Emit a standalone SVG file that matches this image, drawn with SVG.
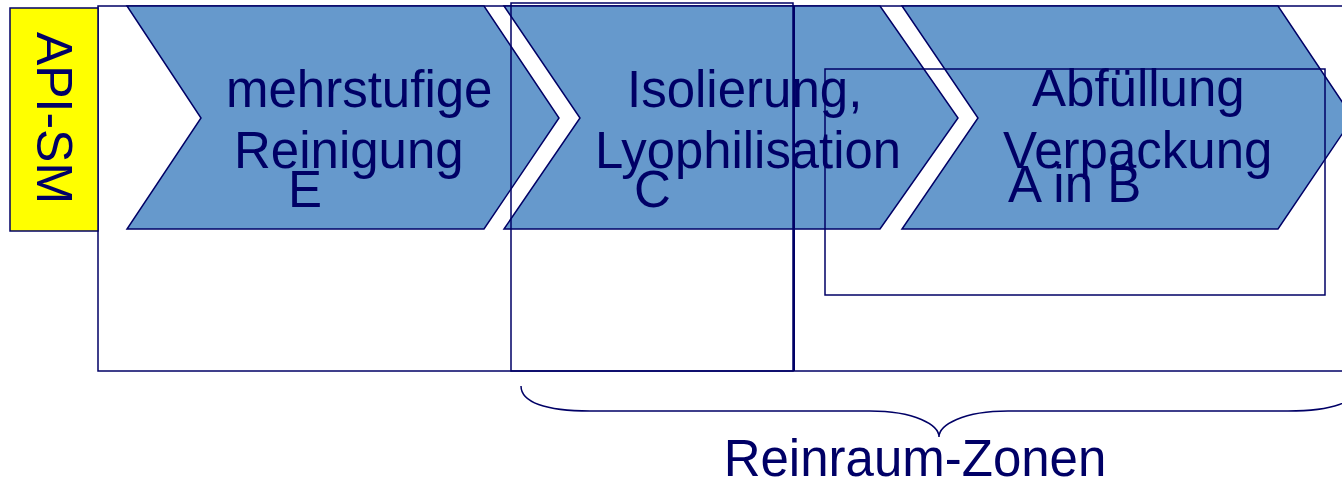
<svg xmlns="http://www.w3.org/2000/svg" width="1342" height="479" viewBox="0 0 1342 479">
<style>
.chev{fill:#6699CC;stroke:#000066;stroke-width:1.5;stroke-linejoin:miter}
.frame{fill:none;stroke:#000066;stroke-width:1.5}
.lbl{font-family:"Liberation Sans",Arial,sans-serif;font-size:51px;fill:#000066}
</style>
<rect width="1342" height="479" fill="#ffffff"/>
<g id="outer-frame"><rect class="frame" x="98" y="6" width="1260" height="365"/></g>
<g id="api-sm">
<rect x="10" y="8" width="88" height="223" fill="#FFFF00" stroke="#000066" stroke-width="1.5"/>
<text class="lbl" transform="translate(37,118) rotate(90)" text-anchor="middle" style="font-size:50px">API-SM</text>
</g>
<g id="step-e">
<polygon class="chev" points="127,6 484,6 559,118 484,229 127,229 201,118"/>
</g>
<g id="step-c">
<polygon class="chev" points="504,6 880,6 958,118 880,229 504,229 580,118"/>
</g>
<g id="step-ab">
<polygon class="chev" points="902,6 1278,6 1353,118 1278,229 902,229 978,118"/>
</g>
<g id="zone-c"><rect class="frame" x="511" y="3" width="282" height="368"/><line x1="794" y1="6" x2="794" y2="371" stroke="#000066" stroke-width="2"/></g>
<g id="zone-ab"><rect class="frame" x="825" y="69" width="500" height="226"/></g>
<g id="texts">
<text class="lbl" x="226" y="107">mehrstufige</text>
<text class="lbl" x="234" y="168">Reinigung</text>
<text class="lbl" x="288" y="207">E</text>
<text class="lbl" x="627" y="107">Isolierung,</text>
<text class="lbl" x="595" y="168" textLength="306" lengthAdjust="spacingAndGlyphs">Lyophilisation</text>
<text class="lbl" x="634" y="207">C</text>
<text class="lbl" x="1032" y="106">Abfüllung</text>
<text class="lbl" x="1003" y="168">Verpackung</text>
<text class="lbl" x="1008" y="202">A in B</text>
</g>
<g id="connectors">
<path d="M521,386 C521,402 545,411 590,411 L870,411 C915,411 939,425 939,437 C939,425 963,411 1008,411 L1288,411 C1333,411 1357,402 1357,386" fill="none" stroke="#000066" stroke-width="1.5"/>
</g>
<g id="zone-label"><text class="lbl" x="915" y="476" text-anchor="middle">Reinraum-Zonen</text></g>
</svg>
